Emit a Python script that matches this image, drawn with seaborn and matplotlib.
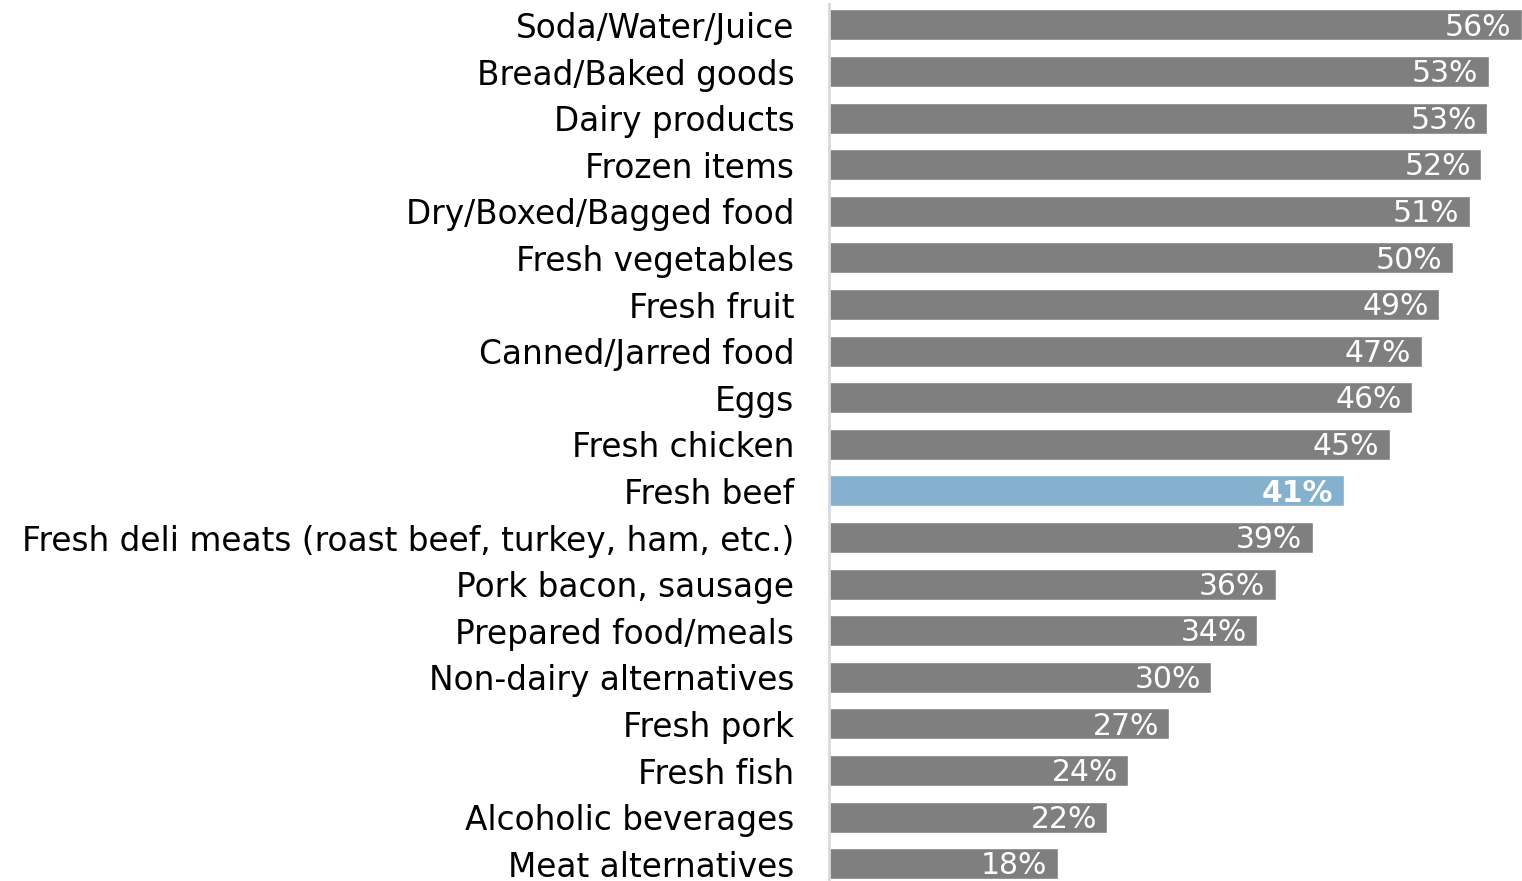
import matplotlib
matplotlib.use("Agg")
import matplotlib.pyplot as plt
import seaborn as sns

sns.set_style("white")
plt.rcParams['font.family'] = ['DejaVu Sans']

categories = ['Soda/Water/Juice', 'Bread/Baked goods', 'Dairy products', 'Frozen items',
              'Dry/Boxed/Bagged food', 'Fresh vegetables', 'Fresh fruit', 'Canned/Jarred food',
              'Eggs', 'Fresh chicken', 'Fresh beef',
              'Fresh deli meats (roast beef, turkey, ham, etc.)', 'Pork bacon, sausage',
              'Prepared food/meals', 'Non-dairy alternatives', 'Fresh pork', 'Fresh fish',
              'Alcoholic beverages', 'Meat alternatives']
values = [56.0, 53.3, 53.2, 52.7, 51.8, 50.4, 49.3, 47.9, 47.1, 45.3, 41.6, 39.1,
          36.1, 34.6, 30.9, 27.5, 24.2, 22.5, 18.5]
labels = ['56%', '53%', '53%', '52%', '51%', '50%', '49%', '47%', '46%', '45%', '41%',
          '39%', '36%', '34%', '30%', '27%', '24%', '22%', '18%']
highlight = 'Fresh beef'

colors = {c: ('#84B1CD' if c == highlight else '#7F7F7F') for c in categories}

fig = plt.figure(figsize=(15.22, 8.81), dpi=100)
ax = fig.add_axes([829 / 1522, 0.0, 1 - 829 / 1522, 1 - 4 / 881])

sns.barplot(x=values, y=categories, hue=categories, palette=colors, legend=False,
            width=0.665, saturation=1, orient='h', ax=ax)

# value labels, white, right-aligned inside the bar end
for i, (v, lab, cat) in enumerate(zip(values, labels, categories)):
    ax.annotate(lab, xy=(v, i), xytext=(-7.5, -1.5), textcoords='offset points',
                ha='right', va='center', color='white', fontsize=21.5,
                fontweight='bold' if cat == highlight else 'normal')

ax.set_xlim(0, values[0])
ax.set_ylim(18.37, -0.45)
ax.set_xticks([])
ax.set_xlabel('')
ax.set_ylabel('')
ax.tick_params(axis='y', length=0, pad=25, labelsize=23.6, labelcolor='black')
for s in ['top', 'right', 'bottom']:
    ax.spines[s].set_visible(False)
ax.spines['left'].set_color('#D9D9D9')
ax.spines['left'].set_linewidth(2)

fig.savefig('out.png', dpi=100)
